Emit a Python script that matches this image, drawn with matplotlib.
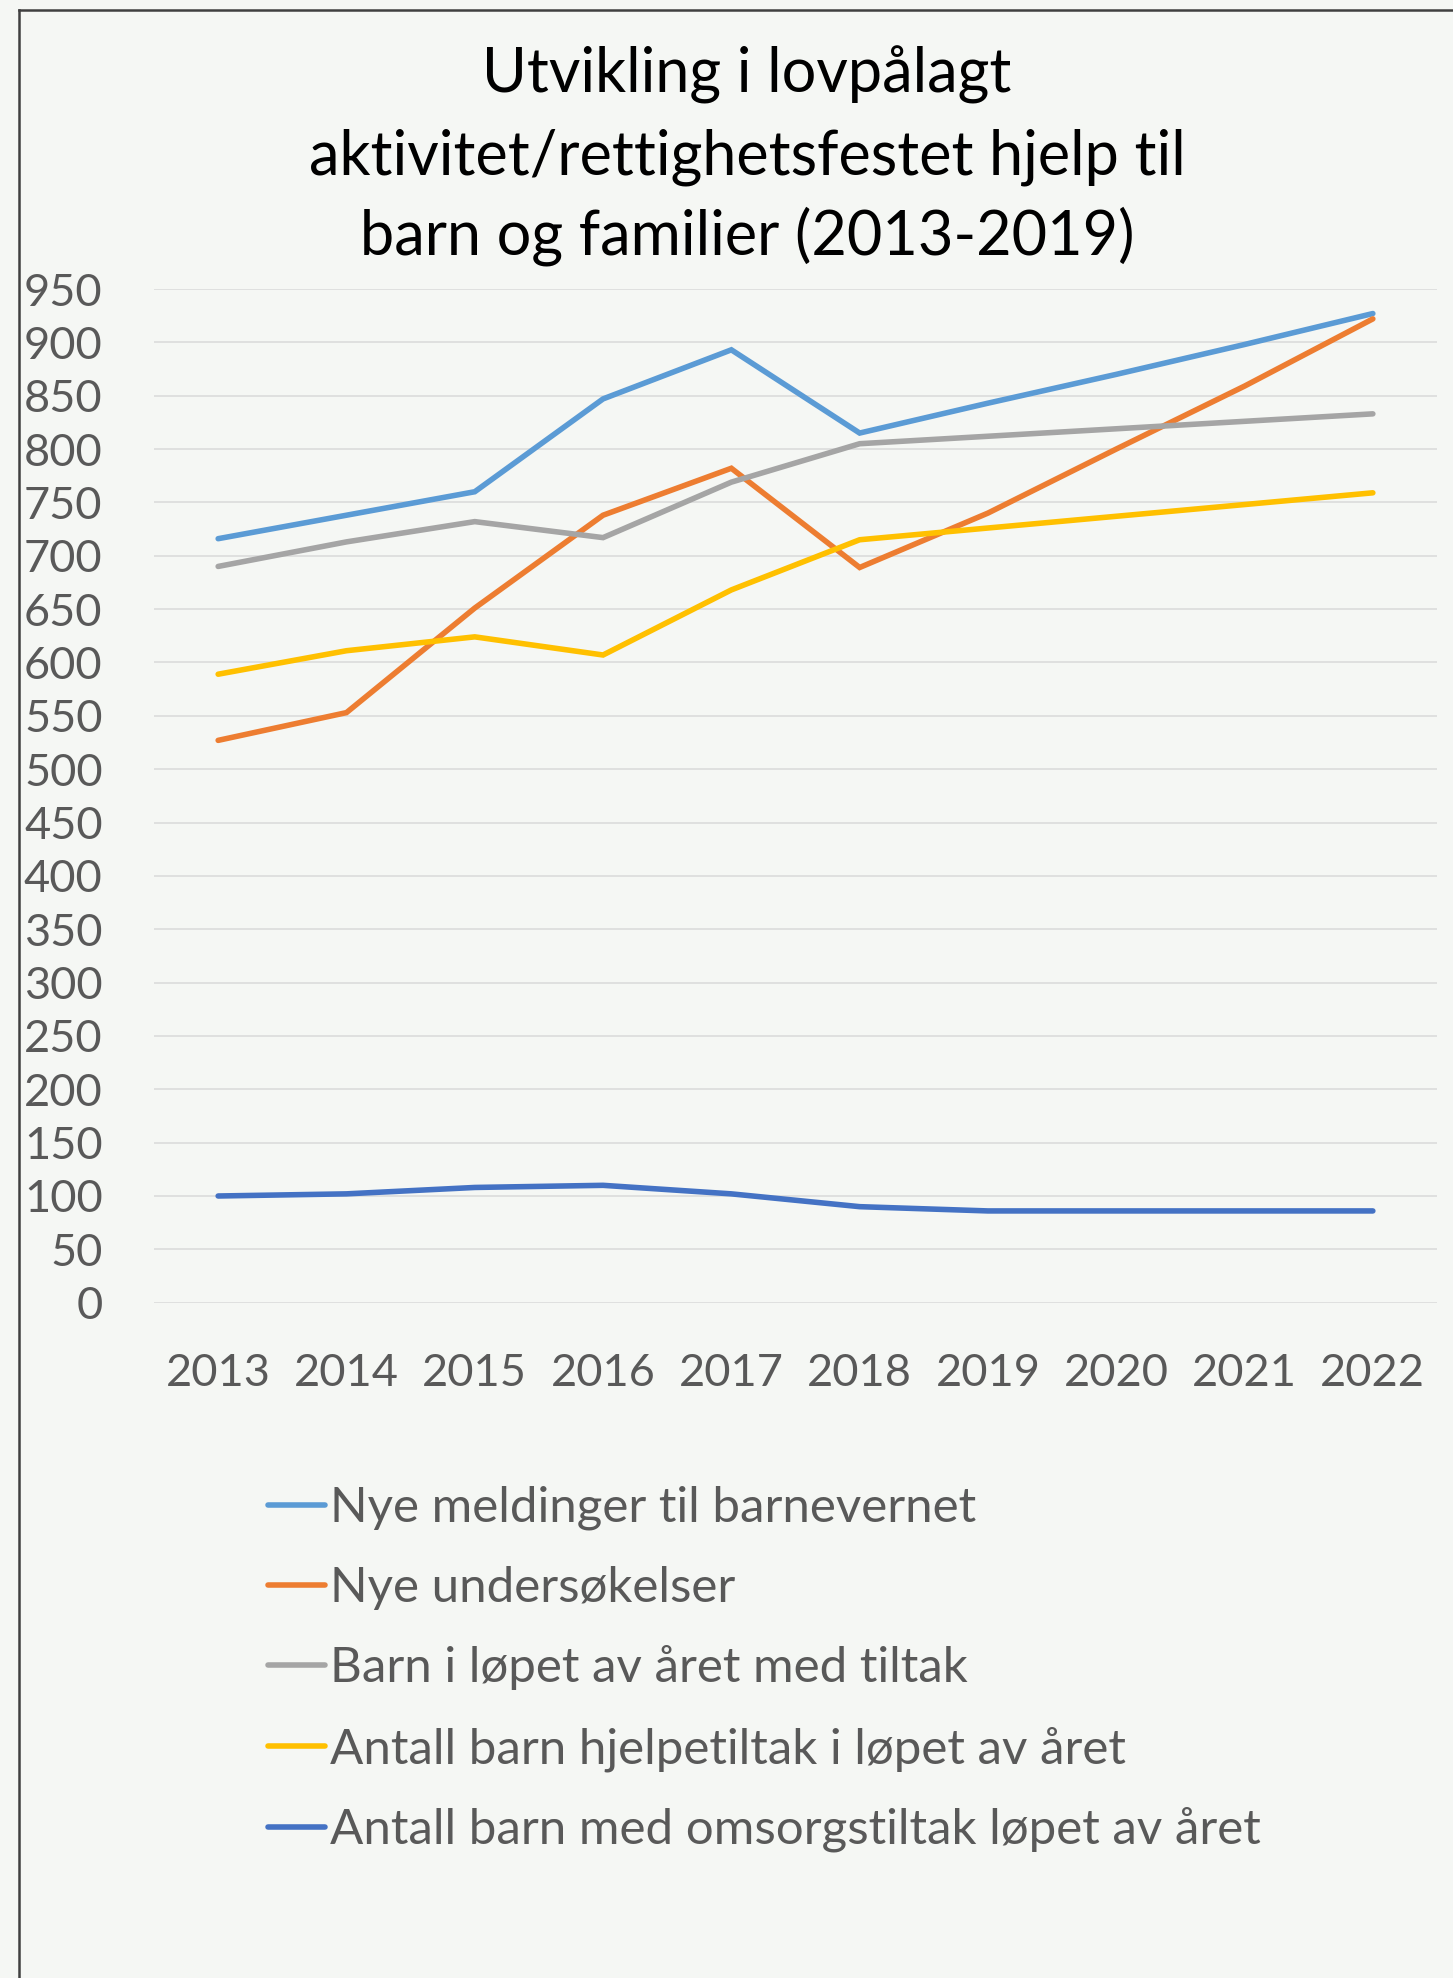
import matplotlib.pyplot as plt
import numpy as np

plt.rcParams['font.family'] = ['Lato', 'DejaVu Sans']

# data
years = ["2013", "2014", "2015", "2016", "2017", "2018", "2019", "2020", "2021", "2022"]
meldinger = [716, 738, 760, 847, 893, 815, 843, 870, 898, 927]
undersokelser = [527, 553, 651, 738, 782, 689, 740, 800, 859, 922]
barn_tiltak = [690, 713, 732, 717, 769, 805, 812, 819, 826, 833]
hjelpetiltak = [589, 611, 624, 607, 668, 715, 726, 737, 748, 759]
omsorgstiltak = [100, 102, 108, 110, 102, 90, 86, 86, 86, 86]

labels = ["Nye meldinger til barnevernet",
          "Nye undersøkelser",
          "Barn i løpet av året med tiltak",
          "Antall barn hjelpetiltak i løpet av året",
          "Antall barn med omsorgstiltak løpet av året"]
colors = ["#5B9BD5", "#ED7D31", "#A5A5A5", "#FFC000", "#4472C4"]
series = [meldinger, undersokelser, barn_tiltak, hjelpetiltak, omsorgstiltak]

bg = "#F5F7F4"
txt = "#595959"

fig = plt.figure(figsize=(14.53, 19.78), dpi=100, facecolor=bg)
ax = fig.add_axes([154/1453, 1 - 1302.7/1978, (1437-154)/1453, (1302.7-289)/1978])
ax.set_facecolor(bg)

x = np.arange(len(years))
for vals, c, lab in zip(series, colors, labels):
    ax.plot(x, vals, color=c, lw=4.0, label=lab, solid_capstyle='round', solid_joinstyle='miter')

ax.set_xlim(-0.5, len(years) - 0.5)
ax.set_ylim(0, 950)
ax.set_yticks(np.arange(0, 951, 50))
ax.set_xticks(x)
ax.set_xticklabels(years)
ax.yaxis.grid(True, color="#D9D9D9", lw=1.1)
ax.set_axisbelow(True)
for s in ax.spines.values():
    s.set_visible(False)
ax.tick_params(axis='y', length=0, pad=37, labelsize=32.5, labelcolor=txt)
ax.tick_params(axis='x', length=0, pad=36, labelsize=32.5, labelcolor=txt)

# title
title_lines = ["Utvikling i lovpålagt",
               "aktivitet/rettighetsfestet hjelp til",
               "barn og familier (2013-2019)"]
for i, line in enumerate(title_lines):
    fig.text(747/1453, 1 - (93 + 81*i)/1978, line, ha='center', va='baseline',
             fontsize=44, color='black')

# legend
leg = fig.legend(loc='upper left', bbox_to_anchor=(268/1453, 1 - 1486/1978),
                 frameon=False, fontsize=35.5, handlelength=1.16, handletextpad=0.1,
                 labelspacing=0.72, borderpad=0, borderaxespad=0)
for t in leg.get_texts():
    t.set_color(txt)

# outer frame lines (top and left)
fig.add_artist(plt.Line2D([18.5/1453, 1], [1 - 9.5/1978, 1 - 9.5/1978],
                          color="#404040", lw=1.8, transform=fig.transFigure))
fig.add_artist(plt.Line2D([18.5/1453, 18.5/1453], [0, 1 - 9.5/1978],
                          color="#404040", lw=1.8, transform=fig.transFigure))

fig.savefig("out.png", dpi=100, facecolor=bg)
